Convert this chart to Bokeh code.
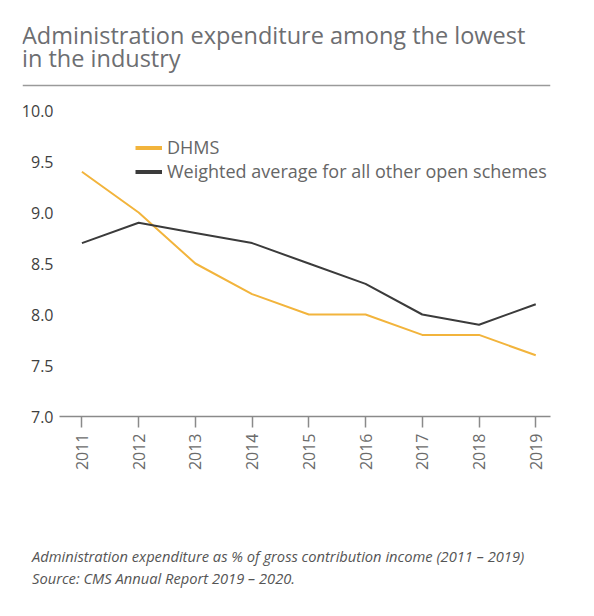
from math import pi
from bokeh.plotting import figure
from bokeh.models import (Range1d, FixedTicker, PrintfTickFormatter, Legend, LegendItem,
                          Label, Span, CDSView, IndexFilter, ColumnDataSource)
from bokeh.embed import file_html
from bokeh.resources import INLINE

years = [2011, 2012, 2013, 2014, 2015, 2016, 2017, 2018, 2019]
dhms = [9.4, 9.0, 8.5, 8.2, 8.0, 8.0, 7.8, 7.8, 7.6]
others = [8.7, 8.9, 8.8, 8.7, 8.5, 8.3, 8.0, 7.9, 8.1]
y_ticks = [7.0, 7.5, 8.0, 8.5, 9.0, 9.5, 10.0]
series_names = ["DHMS", "Weighted average for all other open schemes"]
title_lines = ["Administration expenditure among the lowest", "in the industry"]
caption_lines = ["Administration expenditure as % of gross contribution income (2011 \u2013 2019)",
                 "Source: CMS Annual Report 2019 \u2013 2020."]

FONT = "Open Sans"
ORANGE = "#F2B43C"
DARK = "#3B3B3B"


def blank(height, left, right):
    f = figure(width=594, height=height, output_backend="svg", toolbar_location=None,
               x_axis_location=None, y_axis_location=None,
               x_range=Range1d(0, 1), y_range=Range1d(0, height),
               min_border_left=left, min_border_right=right, min_border_top=0, min_border_bottom=0)
    f.outline_line_color = None
    f.xgrid.visible = False
    f.ygrid.visible = False
    f.border_fill_color = "white"
    return f


# ---- title block (page y 0..100)
ph = blank(100, 22, 44)
for i, t in enumerate(title_lines):
    ph.add_layout(Label(x=-0.5, y=65.5 - 23 * i, x_units="screen", y_units="screen", text=t,
                        text_font=FONT, text_font_size="23.5px", text_color="#6d6e71",
                        text_baseline="middle", text_align="left"))
ph.add_layout(Span(location=15, dimension="width", line_color="#9a9a9a", line_width=1.6))

# ---- main chart (page y 100..540)
p = figure(width=594, height=440, output_backend="svg", toolbar_location=None,
           x_range=Range1d(2010.605, 2019.26), y_range=Range1d(7.0, 10.0),
           min_border_left=59, min_border_right=44, min_border_top=10, min_border_bottom=124)
p.outline_line_color = None
p.xgrid.visible = False
p.ygrid.visible = False
p.border_fill_color = "white"

src = ColumnDataSource(data=dict(year=years, dhms=dhms, others=others))
r1 = p.line("year", "dhms", source=src, line_color=ORANGE, line_width=2)
r2 = p.line("year", "others", source=src, line_color=DARK, line_width=2)
# thicker legend swatches: a single row (a one-point line draws nothing on the chart)
k1 = p.line("year", "dhms", source=src, view=CDSView(filter=IndexFilter([0])),
            line_color=ORANGE, line_width=4)
k2 = p.line("year", "others", source=src, view=CDSView(filter=IndexFilter([0])),
            line_color=DARK, line_width=4)

xa = p.xaxis[0]
xa.ticker = FixedTicker(ticks=years)
xa.major_label_orientation = pi / 2
xa.axis_line_color = "#8a8a8a"
xa.axis_line_width = 1.5
xa.major_tick_line_color = "#8a8a8a"
xa.major_tick_line_width = 1.5
xa.major_tick_in = 0
xa.major_tick_out = 11
xa.minor_tick_line_color = None
xa.major_label_standoff = 6
xa.major_label_text_font = FONT
xa.major_label_text_font_size = "16px"
xa.major_label_text_color = "#6b6b6b"

ya = p.yaxis[0]
ya.ticker = FixedTicker(ticks=y_ticks)
ya.formatter = PrintfTickFormatter(format="%.1f")
ya.axis_line_color = None
ya.major_tick_line_color = None
ya.minor_tick_line_color = None
ya.major_tick_in = 0
ya.major_tick_out = 0
ya.major_label_standoff = 6
ya.major_label_text_font = FONT
ya.major_label_text_font_size = "16px"
ya.major_label_text_color = "#3f3f3f"

legend = Legend(items=[LegendItem(label=series_names[0], renderers=[k1]),
                       LegendItem(label=series_names[1], renderers=[k2])],
                location=(76, 233), orientation="vertical",
                padding=0, margin=0, spacing=0,
                glyph_width=27, glyph_height=21, label_height=21, label_standoff=5,
                label_text_font=FONT, label_text_font_size="18px", label_text_color="#666666",
                background_fill_alpha=0, border_line_color=None)
p.add_layout(legend)

# ---- caption block (page y 540..616)
pc = blank(76, 0, 0)
for i, t in enumerate(caption_lines):
    pc.add_layout(Label(x=31.5, y=60.3 - 22 * i, x_units="screen", y_units="screen", text=t,
                        text_font=FONT, text_font_size="14.7px", text_font_style="italic",
                        text_color="#555555", text_baseline="middle", text_align="left"))

open("out.html", "w").write(file_html([ph, p, pc], INLINE))
